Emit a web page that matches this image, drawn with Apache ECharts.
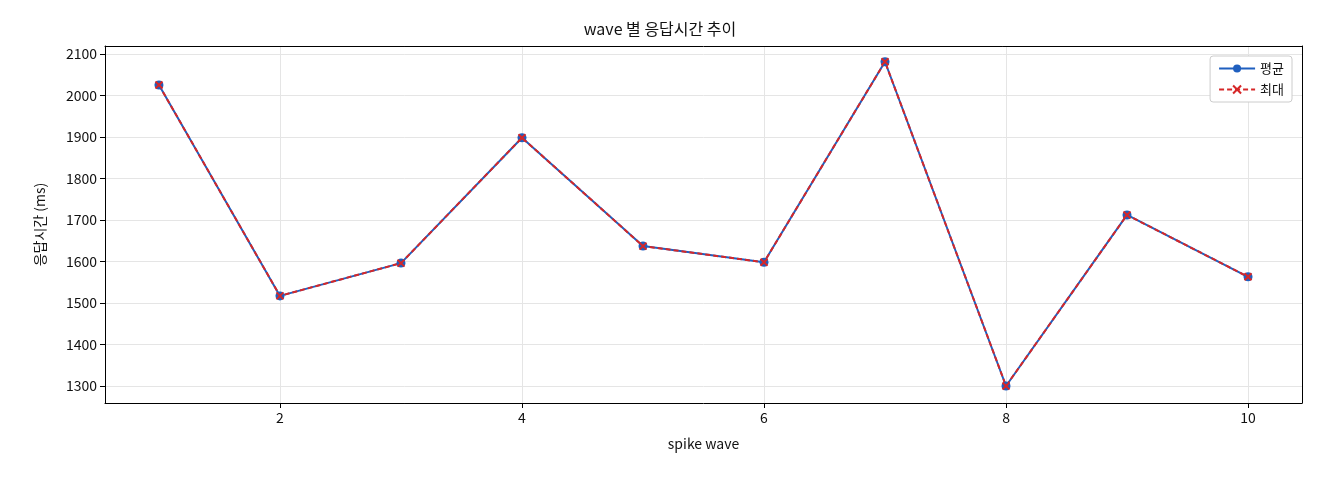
<!DOCTYPE html>
<html><head><meta charset="utf-8">
<script src="https://cdn.jsdelivr.net/npm/echarts@6/dist/echarts.min.js"></script>
<style>html,body{margin:0;padding:0;background:#fff}#c{width:1320px;height:480px}</style>
</head><body><div id="c"></div>
<script>
const waves = [1,2,3,4,5,6,7,8,9,10];
const avgValues = [2025,1517,1596,1898,1637,1598,2081,1300,1712,1563];
const maxValues = [2025,1517,1596,1898,1637,1598,2081,1300,1712,1563];
const xTicks = [2,4,6,8,10];
const yTicks = [1300,1400,1500,1600,1700,1800,1900,2000,2100];
const font = "'Noto Sans CJK KR','DejaVu Sans',sans-serif";
const chart = echarts.init(document.getElementById('c'));
const frameX = {type:'value',position:'top',min:0.554,max:10.446,axisLine:{show:true,onZero:false,lineStyle:{color:'#000'}},axisTick:{show:false},axisLabel:{show:false},splitLine:{show:false}};
const frameY = {type:'value',position:'right',min:1259,max:2119,axisLine:{show:true,lineStyle:{color:'#000'}},axisTick:{show:false},axisLabel:{show:false},splitLine:{show:false}};
chart.setOption({
  animation:false,
  textStyle:{fontFamily:font},
  title:{text:'wave 별 응답시간 추이',left:'center',top:16,textStyle:{fontSize:16,fontWeight:'normal',color:'#111',fontFamily:font}},
  grid:{left:105,right:18,top:46,bottom:77},
  legend:{right:28,top:56,orient:'vertical',itemGap:8,itemWidth:36,itemHeight:10,
    backgroundColor:'#fff',borderColor:'#ccc',borderWidth:1,borderRadius:3,padding:[6,8],
    textStyle:{fontSize:13,color:'#111'},data:['평균','최대']},
  xAxis:[{type:'value',min:0.554,max:10.446,name:'spike wave',nameLocation:'middle',nameGap:34,
    nameTextStyle:{fontSize:14,color:'#111'},
    axisLine:{onZero:false,lineStyle:{color:'#000'}},
    axisTick:{customValues:xTicks,lineStyle:{color:'#000'}},
    axisLabel:{customValues:xTicks,fontSize:14,color:'#111'},
    splitLine:{show:true,lineStyle:{color:'#e5e5e5'}}}, frameX],
  yAxis:[{type:'value',min:1259,max:2119,name:'응답시간 (ms)',nameLocation:'middle',nameGap:58,
    nameTextStyle:{fontSize:14,color:'#111'},
    axisLine:{show:true,lineStyle:{color:'#000'}},
    axisTick:{show:true,customValues:yTicks,lineStyle:{color:'#000'}},
    axisLabel:{customValues:yTicks,fontSize:14,color:'#111',formatter:v=>String(v)},
    splitLine:{show:true,lineStyle:{color:'#e5e5e5'}}}, frameY],
  series:[
    {name:'평균',type:'line',data:waves.map((w,i)=>[w,avgValues[i]]),symbol:'circle',symbolSize:9,
      itemStyle:{color:'#1f5fbf'},lineStyle:{color:'#1f5fbf',width:2}},
    {name:'최대',type:'line',data:waves.map((w,i)=>[w,maxValues[i]]),
      symbol:'path://M0,0L10,10M10,0L0,10',symbolSize:7,
      itemStyle:{color:'#d62728',borderColor:'#d62728',borderWidth:2},
      lineStyle:{color:'#d62728',width:2,type:[5,3]}}
  ]
});
</script></body></html>
